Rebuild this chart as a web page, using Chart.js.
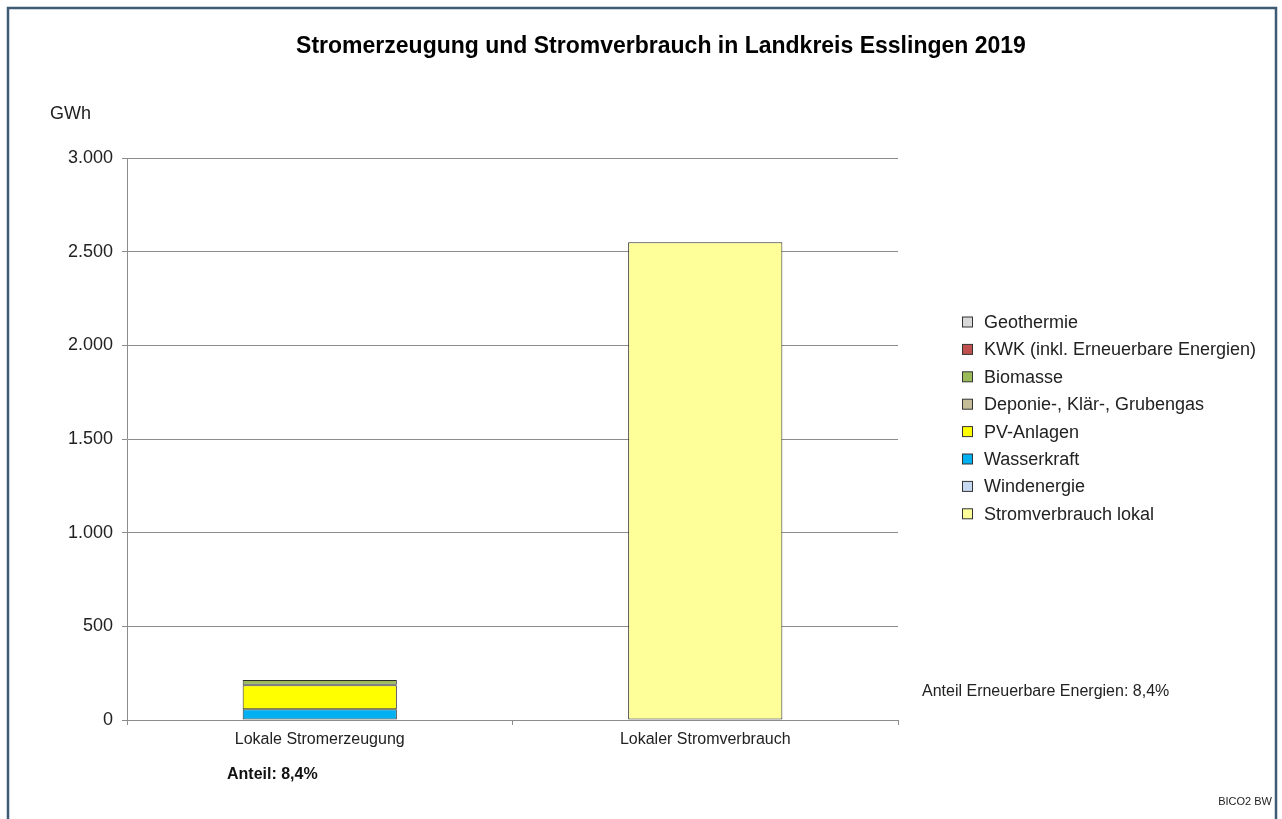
<!DOCTYPE html>
<html>
<head>
<meta charset="utf-8">
<script src="https://cdn.jsdelivr.net/npm/chart.js@4.4.1/dist/chart.umd.min.js"></script>
<style>
  html, body { margin: 0; padding: 0; background: #fff; }
  #wrap { position: relative; width: 1282px; height: 819px; }
  canvas { display: block; }
</style>
</head>
<body>
<div id="wrap"><canvas id="c" width="1282" height="819"></canvas></div>
<script>
// ---- data ----
const categories = ['Lokale Stromerzeugung', 'Lokaler Stromverbrauch'];
const seriesNames = ['Stromverbrauch lokal', 'Windenergie', 'Wasserkraft', 'PV-Anlagen',
                     'Deponie-, Klär-, Grubengas', 'Biomasse', 'KWK (inkl. Erneuerbare Energien)', 'Geothermie'];
const stromverbrauchLokal = [0, 2550];
const windenergie = [0, 0];
const wasserkraft = [58, 0];
const pvAnlagen = [128, 0];
const deponieGas = [2, 0];
const biomasse = [26, 0];
const kwk = [0, 0];
const geothermie = [0, 0];
const yTicks = [0, 500, 1000, 1500, 2000, 2500, 3000];
const titleText = 'Stromerzeugung und Stromverbrauch in Landkreis Esslingen 2019';
const unitText = 'GWh';
const shareLabel = 'Anteil: 8,4%';
const shareNote = 'Anteil Erneuerbare Energien: 8,4%';
const sourceText = 'BICO2 BW';

const seriesValues = [stromverbrauchLokal, windenergie, wasserkraft, pvAnlagen, deponieGas, biomasse, kwk, geothermie];
const seriesColors = ['#FFFF99', '#C6D9F1', '#00B0F0', '#FFFF00', '#C4BD97', '#9BBB59', '#C0504D', '#D9D9D9'];

const FONT = '"Liberation Sans", Arial, sans-serif';

const datasets = seriesNames.map((n, i) => ({
  label: n,
  data: seriesValues[i],
  backgroundColor: seriesColors[i],
  borderColor: '#2b2b2b',
  borderWidth: (ctx) => (ctx.raw ? 1 : 0),
  borderSkipped: false,
  barPercentage: 0.4,
  categoryPercentage: 1.0
}));

const decor = {
  id: 'decor',
  afterDraw(chart) {
    const ctx = chart.ctx;
    ctx.save();
    // frame
    ctx.strokeStyle = '#3E5B76';
    ctx.lineWidth = 2.5;
    ctx.beginPath();
    ctx.moveTo(8, 830); ctx.lineTo(8, 8); ctx.lineTo(1276, 8); ctx.lineTo(1276, 830);
    ctx.stroke();
    // title
    ctx.fillStyle = '#000';
    ctx.textBaseline = 'middle';
    ctx.textAlign = 'center';
    ctx.font = 'bold 23px ' + FONT;
    ctx.fillText(titleText, 661, 47);
    // unit
    ctx.font = '18px ' + FONT;
    ctx.fillStyle = '#222';
    ctx.textAlign = 'left';
    ctx.fillText(unitText, 50, 114);
    // legend (top of stack first)
    ctx.font = '18px ' + FONT;
    const order = [7, 6, 5, 4, 3, 2, 1, 0];
    order.forEach((si, k) => {
      const y = 322 + k * 27.4;
      ctx.fillStyle = seriesColors[si];
      ctx.fillRect(962.5, y - 5, 10, 10);
      ctx.strokeStyle = '#333';
      ctx.lineWidth = 1;
      ctx.strokeRect(962.5, y - 5, 10, 10);
      ctx.fillStyle = '#222';
      ctx.fillText(seriesNames[si], 984, y + 1);
    });
    // notes
    ctx.font = '16px ' + FONT;
    ctx.fillText(shareNote, 922, 692);
    ctx.font = 'bold 16px ' + FONT;
    ctx.fillStyle = '#111';
    ctx.fillText(shareLabel, 227, 775);
    ctx.font = '11px ' + FONT;
    ctx.textAlign = 'right';
    ctx.fillStyle = '#222';
    ctx.fillText(sourceText, 1272, 802);
    ctx.restore();
  }
};

new Chart(document.getElementById('c'), {
  type: 'bar',
  data: { labels: categories, datasets },
  options: {
    responsive: false,
    devicePixelRatio: 1,
    animation: false,
    layout: { padding: { top: 158, right: 384, left: 0, bottom: 0 } },
    plugins: { legend: { display: false }, title: { display: false }, tooltip: { enabled: false } },
    scales: {
      x: {
        stacked: true,
        offset: true,
        grid: { display: true, offset: true, drawOnChartArea: false, drawTicks: true, tickLength: 5, color: '#8c8c8c' },
        border: { display: true, color: '#8c8c8c', width: 1 },
        ticks: { color: '#222', font: { family: FONT, size: 16 }, padding: 5, maxRotation: 0 },
        afterFit(s) { s.height = 99; }
      },
      y: {
        stacked: true,
        min: 0, max: 3000,
        afterBuildTicks(s) { s.ticks = yTicks.map(v => ({ value: v })); },
        grid: { color: '#8c8c8c', tickLength: 5, drawTicks: true },
        border: { display: true, color: '#8c8c8c', width: 1 },
        ticks: {
          color: '#222', font: { family: FONT, size: 18 }, padding: 9,
          callback: (v) => v.toLocaleString('de-DE')
        },
        afterFit(s) { s.width = 127; }
      }
    }
  },
  plugins: [decor]
});
</script>
</body>
</html>
